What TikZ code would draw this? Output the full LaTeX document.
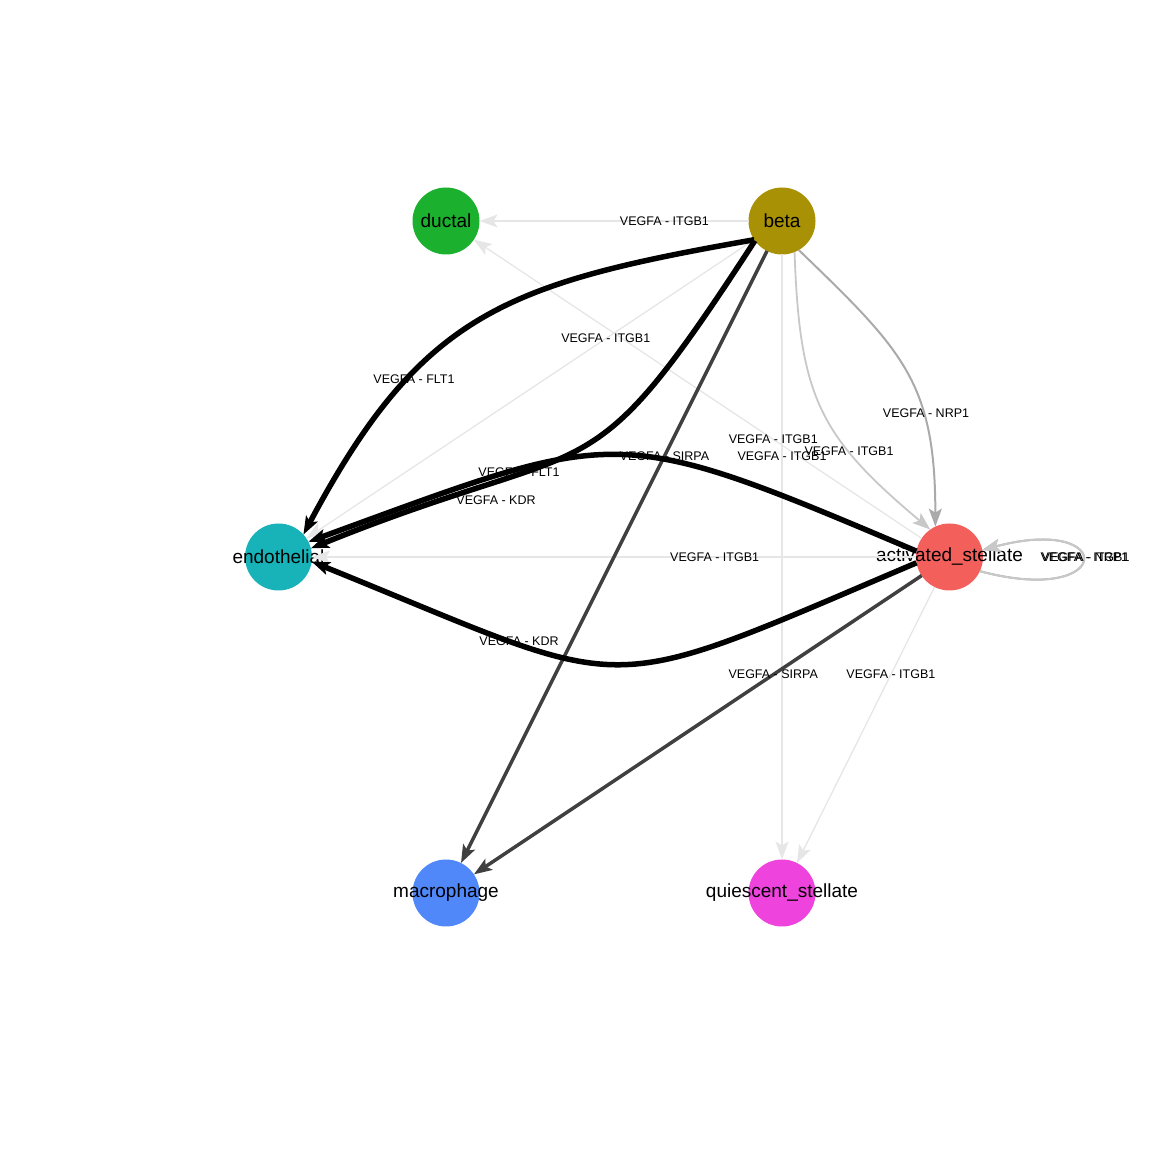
\documentclass[tikz,border=0pt]{standalone}
\usepackage{fontspec}
\setmainfont{Liberation Sans}
\usetikzlibrary{positioning,calc,arrows.meta}
\definecolor{ductalc}{HTML}{1BB02E}
\definecolor{betac}{HTML}{A89105}
\definecolor{endoc}{HTML}{17B3B8}
\definecolor{stellatec}{HTML}{F35F5B}
\definecolor{macroc}{HTML}{5088FA}
\definecolor{quiesc}{HTML}{EE43DC}
\definecolor{wfaint}{HTML}{E6E6E6}
\definecolor{wpale}{HTML}{C8C8C8}
\definecolor{wmid}{HTML}{AAAAAA}
\definecolor{wdark}{HTML}{404040}

\begin{document}
\begin{tikzpicture}[x=1pt,y=1pt,
    cell/.style={circle,minimum size=67pt,inner sep=0pt,outer sep=0pt},
    celltext/.style={font=\fontsize{19}{19}\selectfont,inner sep=0pt},
    lr/.style={font=\fontsize{12.5}{12.5}\selectfont,inner sep=0pt},
    edge/.style = {-{Stealth[length=18pt,width=13pt,inset=4pt]}},
    faint/.style={edge,draw=wfaint,line width=1.3pt},
    pale/.style={edge,draw=wpale,line width=1.8pt},
    medium/.style={edge,draw=wmid,line width=2pt},
    strong/.style={edge,draw=wdark,line width=3.5pt},
    heavy/.style={edge,draw=black,line width=5.5pt}]

    \useasboundingbox (0,0) rectangle (1152,1152);

    %--------------------------------------------
    % Nodes
    \node[cell,fill=ductalc,label={[celltext]center:ductal}](ductal) at (446,931){};

    \node[cell,right=269pt of ductal,fill=betac,label={[celltext]center:beta}](beta){};

    \node[cell,below=605pt of ductal,fill=macroc,label={[celltext]center:macrophage}](macrophage){};

    \node[cell,right=269pt of macrophage,fill=quiesc,label={[celltext]center:quiescent\_stellate}](quiescent){};

    \node[cell,left=134pt of $(ductal)!0.5!(macrophage)$,fill=endoc,label={[celltext]center:endothelial}](endothelial){};

    \node[cell,right=134pt of $(beta)!0.5!(quiescent)$,fill=stellatec,label={[celltext]center:activated\_stellate}](stellate){};

    %--------------------------------------------
    % Edges
    \draw[faint] (beta) -- (ductal);
    \draw[faint] (beta) -- (endothelial);
    \draw[faint] (beta) -- (quiescent);
    \draw[faint] (stellate) -- (ductal);
    \draw[faint] (stellate) -- (endothelial);
    \draw[faint] (stellate) -- (quiescent);

    \draw[medium] (stellate.-25) to[out=-15,in=15,min distance=140pt] (stellate.12);
    \draw[pale] (stellate.-25) to[out=-15,in=15,min distance=140pt] (stellate.12);

    \draw[pale] (beta.-68) to[out=-88,in=140,looseness=1.2] (stellate.125);
    \draw[medium] (beta.-60) to[out=-44,in=90,looseness=1.2] (stellate.115);

    \draw[strong] (beta) -- (macrophage);
    \draw[strong] (stellate) -- (macrophage);

    \draw[heavy] (beta.214) to[out=190,in=62,looseness=1.2] (endothelial.42);
    \draw[heavy] (beta.216) to[out=237,in=22,looseness=1.5] (endothelial.15);
    \draw[heavy] (stellate.170) to[out=157,in=20,looseness=1.4] (endothelial.27);
    \draw[heavy] (stellate.190) to[out=203,in=-22,looseness=1.5] (endothelial.-8);

    %--------------------------------------------
    % Edge labels
    \node[lr] (l-bd) at ($(beta)!0.35!(ductal)$) {VEGFA - ITGB1};
    \node[lr] (l-be) at ($(beta)!0.35!(endothelial)$) {VEGFA - ITGB1};
    \node[lr] (l-bq) at ($(beta)!0.35!(quiescent)$) {VEGFA - ITGB1};
    \node[lr] (l-bm) at ($(beta)!0.35!(macrophage)$) {VEGFA - SIRPA};
    \node[lr] (l-sd) at ($(stellate)!0.35!(ductal)$) {VEGFA - ITGB1};
    \node[lr] (l-se) at ($(stellate)!0.35!(endothelial)$) {VEGFA - ITGB1};
    \node[lr] (l-sm) at ($(stellate)!0.35!(macrophage)$) {VEGFA - SIRPA};
    \node[lr] (l-sq) at ($(stellate)!0.35!(quiescent)$) {VEGFA - ITGB1};

    \node[lr] (l-beflt) at (414,773) {VEGFA - FLT1};
    \node[lr] (l-bekdr) at (496,652) {VEGFA - KDR};
    \node[lr] (l-seflt) at (519,680) {VEGFA - FLT1};
    \node[lr] (l-sekdr) at (519,511) {VEGFA - KDR};
    \node[lr] (l-bsnrp) at (926,739) {VEGFA - NRP1};
    \node[lr] (l-bsitg) at (849,701) {VEGFA - ITGB1};

    \node[lr] (l-ssitg) at (1085,595) {VEGFA - ITGB1};
    \node[lr] (l-ssnrp) at (1085,595) {VEGFA - NRP1};
\end{tikzpicture}
\end{document}
